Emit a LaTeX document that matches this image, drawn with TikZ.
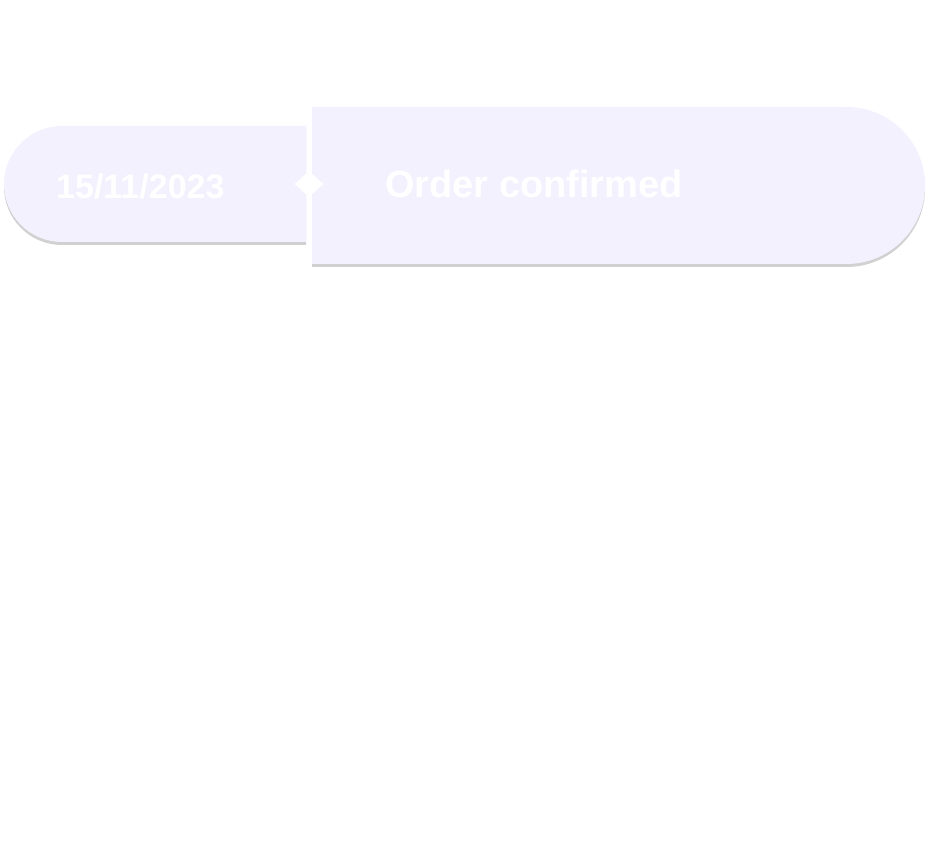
\documentclass[tikz,border=0pt]{standalone}
\usepackage{fontspec}
\usepackage{xcolor}
\usepackage{tikz}
\usetikzlibrary{shapes.misc, shapes.geometric, shadows}
\newfontfamily\cardfont{Liberation Sans}
\definecolor{pillfill}{RGB}{243,241,254}
\tikzset{
    pillShadow/.style={drop shadow={shadow xshift=0pt, shadow yshift=-3pt, opacity=0.4, fill=black!45}},
    datePill/.style={rounded rectangle, rounded rectangle right arc=none, fill=pillfill, draw=none, minimum width=302pt, minimum height=116pt, inner sep=0pt, pillShadow},
    eventPill/.style={rounded rectangle, rounded rectangle left arc=none, fill=pillfill, draw=none, minimum width=613pt, minimum height=157pt, inner sep=0pt, pillShadow},
    marker/.style={diamond, fill=white, draw=none, minimum width=29pt, minimum height=26pt, inner sep=0pt},
    cardText/.style={text=white, inner sep=0pt, anchor=base west}
}

\begin{document}
\begin{tikzpicture}[x=1pt, y=1pt]
        \useasboundingbox (0,0) rectangle (928,847);

        % Date pill
        \node[datePill] (DatePill) at (155,663) {};

        % Event pill
        \node[eventPill] (EventPill) at (618.5,661.5) {};

        % Marker between the pills
        \node[marker] (Marker) at (309,663) {};

        % Labels
        \node[cardText, font=\cardfont\bfseries\fontsize{34}{34}\selectfont] (DateText) at (56,648.5) {15/11/2023};
        \node[cardText, font=\cardfont\bfseries\fontsize{38}{38}\selectfont] (EventText) at (385,649) {Order confirmed};
    \end{tikzpicture}
\end{document}
